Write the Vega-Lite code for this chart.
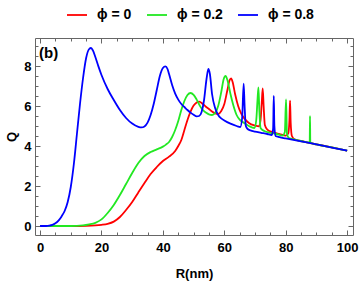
{
  "$schema": "https://vega.github.io/schema/vega-lite/v6.json",
  "width": 318,
  "height": 197,
  "autosize": {"type": "none"},
  "padding": {"left": 35, "top": 38, "right": 7, "bottom": 46},
  "background": "white",
  "title": {"text": "(b)", "anchor": "start", "frame": "group", "orient": "top", "offset": 0, "dx": 4, "dy": 69, "baseline": "alphabetic", "font": "Liberation Sans", "fontSize": 15, "fontWeight": "bold", "color": "black"},
  "config": {
    "view": {"stroke": null},
    "axis": {"grid": false, "domainColor": "#666", "tickColor": "#666", "domainWidth": 1, "tickWidth": 1, "labelFont": "Liberation Sans", "labelFontWeight": "bold", "labelFontSize": 13, "labelColor": "black", "titleFont": "Liberation Sans", "titleFontWeight": "bold", "titleFontSize": 13, "titleColor": "black"}
  },
  "datasets": {
    "curves": [
      {"phi":"ϕ = 0","R":0,"Q":0},{"phi":"ϕ = 0","R":10,"Q":0},{"phi":"ϕ = 0","R":15,"Q":0.01},{"phi":"ϕ = 0","R":18,"Q":0.03},{"phi":"ϕ = 0","R":20,"Q":0.06},{"phi":"ϕ = 0","R":22,"Q":0.11},{"phi":"ϕ = 0","R":24,"Q":0.22},{"phi":"ϕ = 0","R":26,"Q":0.45},{"phi":"ϕ = 0","R":28,"Q":0.8},{"phi":"ϕ = 0","R":30,"Q":1.2},{"phi":"ϕ = 0","R":32,"Q":1.68},{"phi":"ϕ = 0","R":34,"Q":2.15},{"phi":"ϕ = 0","R":36,"Q":2.6},{"phi":"ϕ = 0","R":38,"Q":2.95},{"phi":"ϕ = 0","R":40,"Q":3.25},{"phi":"ϕ = 0","R":42,"Q":3.47},{"phi":"ϕ = 0","R":44,"Q":3.75},{"phi":"ϕ = 0","R":45,"Q":4.0},{"phi":"ϕ = 0","R":46,"Q":4.3},{"phi":"ϕ = 0","R":47,"Q":4.8},{"phi":"ϕ = 0","R":48,"Q":5.3},{"phi":"ϕ = 0","R":49,"Q":5.72},{"phi":"ϕ = 0","R":50,"Q":6.02},{"phi":"ϕ = 0","R":51,"Q":6.18},{"phi":"ϕ = 0","R":51.8,"Q":6.22},{"phi":"ϕ = 0","R":53,"Q":6.1},{"phi":"ϕ = 0","R":54,"Q":5.96},{"phi":"ϕ = 0","R":55,"Q":5.85},{"phi":"ϕ = 0","R":56,"Q":5.72},{"phi":"ϕ = 0","R":57,"Q":5.63},{"phi":"ϕ = 0","R":58,"Q":5.6},{"phi":"ϕ = 0","R":59,"Q":5.75},{"phi":"ϕ = 0","R":60,"Q":6.1},{"phi":"ϕ = 0","R":61,"Q":6.8},{"phi":"ϕ = 0","R":61.7,"Q":7.28},{"phi":"ϕ = 0","R":62.2,"Q":7.38},{"phi":"ϕ = 0","R":62.7,"Q":7.2},{"phi":"ϕ = 0","R":63.5,"Q":6.6},{"phi":"ϕ = 0","R":64.5,"Q":6.0},{"phi":"ϕ = 0","R":65.5,"Q":5.62},{"phi":"ϕ = 0","R":66.5,"Q":5.38},{"phi":"ϕ = 0","R":68,"Q":5.15},{"phi":"ϕ = 0","R":70,"Q":5.02},{"phi":"ϕ = 0","R":71.3,"Q":4.98},{"phi":"ϕ = 0","R":71.8,"Q":5.3},{"phi":"ϕ = 0","R":72.2,"Q":6.2},{"phi":"ϕ = 0","R":72.5,"Q":6.88},{"phi":"ϕ = 0","R":72.8,"Q":6.0},{"phi":"ϕ = 0","R":73.2,"Q":5.05},{"phi":"ϕ = 0","R":74,"Q":4.82},{"phi":"ϕ = 0","R":76,"Q":4.68},{"phi":"ϕ = 0","R":78,"Q":4.6},{"phi":"ϕ = 0","R":80,"Q":4.52},{"phi":"ϕ = 0","R":80.8,"Q":4.62},{"phi":"ϕ = 0","R":81.2,"Q":5.3},{"phi":"ϕ = 0","R":81.4,"Q":6.27},{"phi":"ϕ = 0","R":81.6,"Q":5.2},{"phi":"ϕ = 0","R":82,"Q":4.5},{"phi":"ϕ = 0","R":83,"Q":4.32},{"phi":"ϕ = 0","R":85,"Q":4.25},{"phi":"ϕ = 0","R":88,"Q":4.14},{"phi":"ϕ = 0","R":90,"Q":4.08},{"phi":"ϕ = 0","R":95,"Q":3.93},{"phi":"ϕ = 0","R":100,"Q":3.77},
      {"phi":"ϕ = 0.2","R":0,"Q":0},{"phi":"ϕ = 0.2","R":10,"Q":0},{"phi":"ϕ = 0.2","R":14,"Q":0.03},{"phi":"ϕ = 0.2","R":16,"Q":0.08},{"phi":"ϕ = 0.2","R":18,"Q":0.16},{"phi":"ϕ = 0.2","R":20,"Q":0.33},{"phi":"ϕ = 0.2","R":22,"Q":0.65},{"phi":"ϕ = 0.2","R":24,"Q":1.05},{"phi":"ϕ = 0.2","R":26,"Q":1.55},{"phi":"ϕ = 0.2","R":28,"Q":2.1},{"phi":"ϕ = 0.2","R":30,"Q":2.65},{"phi":"ϕ = 0.2","R":32,"Q":3.15},{"phi":"ϕ = 0.2","R":34,"Q":3.5},{"phi":"ϕ = 0.2","R":36,"Q":3.7},{"phi":"ϕ = 0.2","R":38,"Q":3.83},{"phi":"ϕ = 0.2","R":40,"Q":3.97},{"phi":"ϕ = 0.2","R":41,"Q":4.07},{"phi":"ϕ = 0.2","R":42,"Q":4.2},{"phi":"ϕ = 0.2","R":43,"Q":4.45},{"phi":"ϕ = 0.2","R":44,"Q":4.8},{"phi":"ϕ = 0.2","R":45,"Q":5.25},{"phi":"ϕ = 0.2","R":46,"Q":5.8},{"phi":"ϕ = 0.2","R":47,"Q":6.25},{"phi":"ϕ = 0.2","R":48,"Q":6.55},{"phi":"ϕ = 0.2","R":49,"Q":6.65},{"phi":"ϕ = 0.2","R":50,"Q":6.56},{"phi":"ϕ = 0.2","R":51,"Q":6.32},{"phi":"ϕ = 0.2","R":52,"Q":6.02},{"phi":"ϕ = 0.2","R":53,"Q":5.8},{"phi":"ϕ = 0.2","R":54,"Q":5.67},{"phi":"ϕ = 0.2","R":55,"Q":5.58},{"phi":"ϕ = 0.2","R":56,"Q":5.55},{"phi":"ϕ = 0.2","R":57,"Q":5.65},{"phi":"ϕ = 0.2","R":58,"Q":6.0},{"phi":"ϕ = 0.2","R":59,"Q":6.7},{"phi":"ϕ = 0.2","R":59.8,"Q":7.35},{"phi":"ϕ = 0.2","R":60.4,"Q":7.5},{"phi":"ϕ = 0.2","R":61,"Q":7.3},{"phi":"ϕ = 0.2","R":62,"Q":6.6},{"phi":"ϕ = 0.2","R":63,"Q":6.0},{"phi":"ϕ = 0.2","R":64,"Q":5.55},{"phi":"ϕ = 0.2","R":65,"Q":5.32},{"phi":"ϕ = 0.2","R":66,"Q":5.2},{"phi":"ϕ = 0.2","R":68,"Q":5.0},{"phi":"ϕ = 0.2","R":69.8,"Q":4.9},{"phi":"ϕ = 0.2","R":70.4,"Q":5.3},{"phi":"ϕ = 0.2","R":70.8,"Q":6.3},{"phi":"ϕ = 0.2","R":71.1,"Q":6.93},{"phi":"ϕ = 0.2","R":71.4,"Q":5.8},{"phi":"ϕ = 0.2","R":71.8,"Q":4.9},{"phi":"ϕ = 0.2","R":73,"Q":4.75},{"phi":"ϕ = 0.2","R":75,"Q":4.66},{"phi":"ϕ = 0.2","R":77,"Q":4.6},{"phi":"ϕ = 0.2","R":79,"Q":4.52},{"phi":"ϕ = 0.2","R":79.7,"Q":4.7},{"phi":"ϕ = 0.2","R":80.1,"Q":6.33},{"phi":"ϕ = 0.2","R":80.4,"Q":4.6},{"phi":"ϕ = 0.2","R":81,"Q":4.4},{"phi":"ϕ = 0.2","R":83,"Q":4.32},{"phi":"ϕ = 0.2","R":85,"Q":4.25},{"phi":"ϕ = 0.2","R":87.8,"Q":4.17},{"phi":"ϕ = 0.2","R":87.9,"Q":5.5},{"phi":"ϕ = 0.2","R":88,"Q":4.16},{"phi":"ϕ = 0.2","R":90,"Q":4.08},{"phi":"ϕ = 0.2","R":95,"Q":3.93},{"phi":"ϕ = 0.2","R":100,"Q":3.77},
      {"phi":"ϕ = 0.8","R":0,"Q":0},{"phi":"ϕ = 0.8","R":2,"Q":0},{"phi":"ϕ = 0.8","R":3,"Q":0.02},{"phi":"ϕ = 0.8","R":4,"Q":0.06},{"phi":"ϕ = 0.8","R":5,"Q":0.14},{"phi":"ϕ = 0.8","R":6,"Q":0.27},{"phi":"ϕ = 0.8","R":7,"Q":0.48},{"phi":"ϕ = 0.8","R":8,"Q":0.75},{"phi":"ϕ = 0.8","R":9,"Q":1.2},{"phi":"ϕ = 0.8","R":10,"Q":1.95},{"phi":"ϕ = 0.8","R":11,"Q":3.1},{"phi":"ϕ = 0.8","R":12,"Q":4.6},{"phi":"ϕ = 0.8","R":13,"Q":6.1},{"phi":"ϕ = 0.8","R":14,"Q":7.4},{"phi":"ϕ = 0.8","R":15,"Q":8.4},{"phi":"ϕ = 0.8","R":16,"Q":8.85},{"phi":"ϕ = 0.8","R":16.6,"Q":8.9},{"phi":"ϕ = 0.8","R":17.2,"Q":8.78},{"phi":"ϕ = 0.8","R":18,"Q":8.45},{"phi":"ϕ = 0.8","R":19,"Q":7.98},{"phi":"ϕ = 0.8","R":20,"Q":7.55},{"phi":"ϕ = 0.8","R":22,"Q":6.85},{"phi":"ϕ = 0.8","R":24,"Q":6.3},{"phi":"ϕ = 0.8","R":26,"Q":5.8},{"phi":"ϕ = 0.8","R":28,"Q":5.4},{"phi":"ϕ = 0.8","R":30,"Q":5.12},{"phi":"ϕ = 0.8","R":32,"Q":4.96},{"phi":"ϕ = 0.8","R":33,"Q":4.93},{"phi":"ϕ = 0.8","R":34,"Q":4.98},{"phi":"ϕ = 0.8","R":35,"Q":5.17},{"phi":"ϕ = 0.8","R":36,"Q":5.55},{"phi":"ϕ = 0.8","R":37,"Q":6.1},{"phi":"ϕ = 0.8","R":38,"Q":6.8},{"phi":"ϕ = 0.8","R":39,"Q":7.5},{"phi":"ϕ = 0.8","R":40,"Q":7.9},{"phi":"ϕ = 0.8","R":40.8,"Q":7.98},{"phi":"ϕ = 0.8","R":41.5,"Q":7.85},{"phi":"ϕ = 0.8","R":42,"Q":7.6},{"phi":"ϕ = 0.8","R":43,"Q":7.05},{"phi":"ϕ = 0.8","R":44,"Q":6.62},{"phi":"ϕ = 0.8","R":45,"Q":6.32},{"phi":"ϕ = 0.8","R":46,"Q":6.1},{"phi":"ϕ = 0.8","R":47,"Q":5.95},{"phi":"ϕ = 0.8","R":48,"Q":5.8},{"phi":"ϕ = 0.8","R":49,"Q":5.67},{"phi":"ϕ = 0.8","R":50,"Q":5.56},{"phi":"ϕ = 0.8","R":51,"Q":5.48},{"phi":"ϕ = 0.8","R":51.8,"Q":5.5},{"phi":"ϕ = 0.8","R":52.6,"Q":5.7},{"phi":"ϕ = 0.8","R":53.4,"Q":6.3},{"phi":"ϕ = 0.8","R":54.2,"Q":7.35},{"phi":"ϕ = 0.8","R":54.8,"Q":7.85},{"phi":"ϕ = 0.8","R":55.3,"Q":7.6},{"phi":"ϕ = 0.8","R":56,"Q":6.6},{"phi":"ϕ = 0.8","R":57,"Q":5.9},{"phi":"ϕ = 0.8","R":58,"Q":5.55},{"phi":"ϕ = 0.8","R":59,"Q":5.38},{"phi":"ϕ = 0.8","R":60,"Q":5.28},{"phi":"ϕ = 0.8","R":62,"Q":5.12},{"phi":"ϕ = 0.8","R":64,"Q":5.0},{"phi":"ϕ = 0.8","R":65.2,"Q":4.95},{"phi":"ϕ = 0.8","R":65.8,"Q":5.4},{"phi":"ϕ = 0.8","R":66.3,"Q":7.12},{"phi":"ϕ = 0.8","R":66.6,"Q":6.0},{"phi":"ϕ = 0.8","R":67,"Q":5.0},{"phi":"ϕ = 0.8","R":67.6,"Q":4.85},{"phi":"ϕ = 0.8","R":68.5,"Q":4.78},{"phi":"ϕ = 0.8","R":70,"Q":4.72},{"phi":"ϕ = 0.8","R":72,"Q":4.66},{"phi":"ϕ = 0.8","R":74,"Q":4.6},{"phi":"ϕ = 0.8","R":75.5,"Q":4.55},{"phi":"ϕ = 0.8","R":75.9,"Q":4.9},{"phi":"ϕ = 0.8","R":76.1,"Q":6.5},{"phi":"ϕ = 0.8","R":76.3,"Q":5.0},{"phi":"ϕ = 0.8","R":76.7,"Q":4.5},{"phi":"ϕ = 0.8","R":78,"Q":4.44},{"phi":"ϕ = 0.8","R":80,"Q":4.38},{"phi":"ϕ = 0.8","R":85,"Q":4.23},{"phi":"ϕ = 0.8","R":90,"Q":4.08},{"phi":"ϕ = 0.8","R":95,"Q":3.92},{"phi":"ϕ = 0.8","R":100,"Q":3.77}
    ]
  },
  "data": {"name": "curves"},
  "resolve": {"axis": {"x": "independent", "y": "independent"}},
  "layer": [
    {
      "mark": {"type": "line", "strokeWidth": 1.8, "interpolate": "monotone", "clip": true},
      "encoding": {
        "x": {"field": "R", "type": "quantitative", "scale": {"domain": [-1.65, 101.9], "nice": false, "zero": false},
          "axis": {"orient": "bottom", "title": "R(nm)", "values": [0,5,10,15,20,25,30,35,40,45,50,55,60,65,70,75,80,85,90,95,100],
            "labelExpr": "datum.value % 20 === 0 ? format(datum.value, 'd') : ''", "tickSize": {"condition": {"test": "datum.value % 20 === 0", "value": -5}, "value": -3}, "labelPadding": 11, "titlePadding": 13}},
        "y": {"field": "Q", "type": "quantitative", "scale": {"domain": [-0.45, 9.4], "nice": false, "zero": false},
          "axis": {"orient": "left", "title": "Q", "values": [0,0.5,1,1.5,2,2.5,3,3.5,4,4.5,5,5.5,6,6.5,7,7.5,8,8.5,9],
            "labelExpr": "datum.value % 2 === 0 ? format(datum.value, 'd') : ''", "tickSize": {"condition": {"test": "datum.value % 2 === 0", "value": -5}, "value": -3}, "labelPadding": 9, "titlePadding": 5}},
        "color": {"field": "phi", "type": "nominal", "scale": {"domain": ["ϕ = 0", "ϕ = 0.2", "ϕ = 0.8"], "range": ["#ff0000", "#22e822", "#0000ff"]},
          "legend": {"title": null, "orient": "none", "direction": "horizontal", "legendX": 31, "legendY": -34, "padding": 0, "symbolType": "stroke", "symbolSize": 400, "symbolStrokeWidth": 1.8, "labelFont": "Liberation Sans", "labelFontWeight": "bold", "labelFontSize": 14, "labelColor": "black", "labelOffset": 9, "columnPadding": 11}}
      }
    },
    {
      "mark": {"type": "line", "opacity": 0},
      "encoding": {
        "x": {"field": "R", "type": "quantitative",
          "axis": {"orient": "top", "title": null, "labels": false, "values": [0,5,10,15,20,25,30,35,40,45,50,55,60,65,70,75,80,85,90,95,100],
            "tickSize": {"condition": {"test": "datum.value % 20 === 0", "value": -5}, "value": -3}}},
        "y": {"field": "Q", "type": "quantitative",
          "axis": {"orient": "right", "title": null, "labels": false, "values": [0,0.5,1,1.5,2,2.5,3,3.5,4,4.5,5,5.5,6,6.5,7,7.5,8,8.5,9],
            "tickSize": {"condition": {"test": "datum.value % 2 === 0", "value": -5}, "value": -3}}},
        "detail": {"field": "phi"}
      }
    }
  ]
}
